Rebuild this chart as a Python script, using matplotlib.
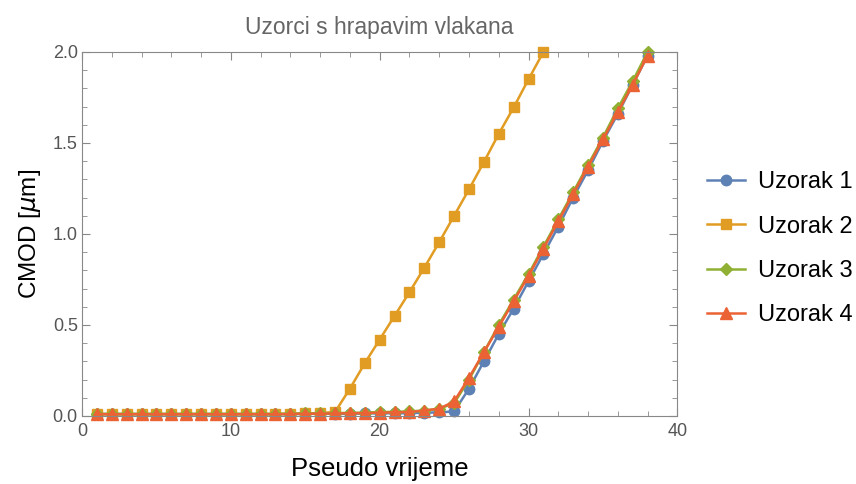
import numpy as np
import matplotlib.pyplot as plt

plt.rcParams['font.family'] = ['Liberation Sans', 'DejaVu Sans']

x = np.arange(1, 39)

# Uzorak 1 (plavi), vrijednosti ocitane s grafa
uzorak1 = [0.010, 0.010, 0.010, 0.010, 0.010, 0.010, 0.010, 0.010, 0.010, 0.010,
           0.010, 0.010, 0.010, 0.010, 0.012, 0.012, 0.012, 0.012, 0.014, 0.015,
           0.015, 0.016, 0.018, 0.020, 0.025, 0.15, 0.30, 0.45, 0.59, 0.74,
           0.89, 1.04, 1.20, 1.35, 1.51, 1.66, 1.82, 1.98]
# Uzorak 2 (narancasti)
x2 = np.arange(1, 32)
uzorak2 = [0.010, 0.010, 0.010, 0.010, 0.010, 0.010, 0.010, 0.010, 0.010, 0.010,
           0.010, 0.010, 0.010, 0.012, 0.014, 0.016, 0.022, 0.15, 0.29, 0.42,
           0.55, 0.68, 0.815, 0.955, 1.10, 1.245, 1.395, 1.55, 1.695, 1.85,
           2.0]
# Uzorak 3 (zeleni)
uzorak3 = [0.012, 0.012, 0.012, 0.012, 0.012, 0.012, 0.012, 0.012, 0.012, 0.012,
           0.012, 0.012, 0.012, 0.013, 0.014, 0.015, 0.016, 0.017, 0.019, 0.021,
           0.023, 0.025, 0.030, 0.040, 0.070, 0.20, 0.35, 0.50, 0.64, 0.78,
           0.93, 1.08, 1.23, 1.38, 1.53, 1.69, 1.84, 2.0]
# Uzorak 4 (crveni)
uzorak4 = [0.010, 0.010, 0.010, 0.010, 0.010, 0.010, 0.010, 0.010, 0.010, 0.010,
           0.010, 0.010, 0.010, 0.011, 0.012, 0.013, 0.014, 0.015, 0.016, 0.018,
           0.020, 0.022, 0.030, 0.040, 0.080, 0.21, 0.35, 0.49, 0.63, 0.77,
           0.92, 1.07, 1.22, 1.37, 1.52, 1.67, 1.82, 1.98]

nazivi = ['Uzorak 1', 'Uzorak 2', 'Uzorak 3', 'Uzorak 4']
boje = ['#5E81B5', '#E19C24', '#8FB032', '#EB6235']

fig = plt.figure(figsize=(8.56, 4.84), dpi=100)
ax = fig.add_axes([0.0958, 0.1405, 0.6955, 0.7521])

ax.plot(x, uzorak1, color=boje[0], marker='o', ms=7.5, lw=1.8, label=nazivi[0], clip_on=False)
ax.plot(x2, uzorak2, color=boje[1], marker='s', ms=7, lw=1.8, label=nazivi[1], clip_on=False)
ax.plot(x, uzorak3, color=boje[2], marker='D', ms=6, lw=1.8, label=nazivi[2], clip_on=False)
ax.plot(x, uzorak4, color=boje[3], marker='^', ms=8, lw=1.8, label=nazivi[3], clip_on=False)

ax.set_xlim(0, 40)
ax.set_ylim(0, 2.0)
ax.set_xticks([0, 10, 20, 30, 40])
ax.set_xticks(np.arange(0, 41, 2), minor=True)
ax.set_yticks([0.0, 0.5, 1.0, 1.5, 2.0])
ax.set_yticks(np.arange(0, 2.01, 0.1), minor=True)
ax.set_yticklabels(['0.0', '0.5', '1.0', '1.5', '2.0'])
ax.tick_params(which='both', direction='in', top=True, right=True,
               color='#888888', labelsize=13, labelcolor='#555555')
ax.tick_params(which='major', length=6)
ax.tick_params(which='minor', length=3.5)
ax.tick_params(axis='x', pad=5)
ax.tick_params(axis='y', pad=3)
for s in ax.spines.values():
    s.set_color('#888888')

ax.set_title('Uzorci s hrapavim vlakana', fontsize=16.5, color='#666666', pad=13)
ax.set_xlabel('Pseudo vrijeme', fontsize=18.5, labelpad=12)
ax.set_ylabel('CMOD [$\\mu$m]', fontsize=17.5, labelpad=7)

fig.legend(loc='center left', bbox_to_anchor=(0.826, 0.486), frameon=False,
           fontsize=17, handlelength=1.6, handletextpad=0.55, labelspacing=0.95,
           borderpad=0, borderaxespad=0)

fig.savefig('out.png', dpi=100)
